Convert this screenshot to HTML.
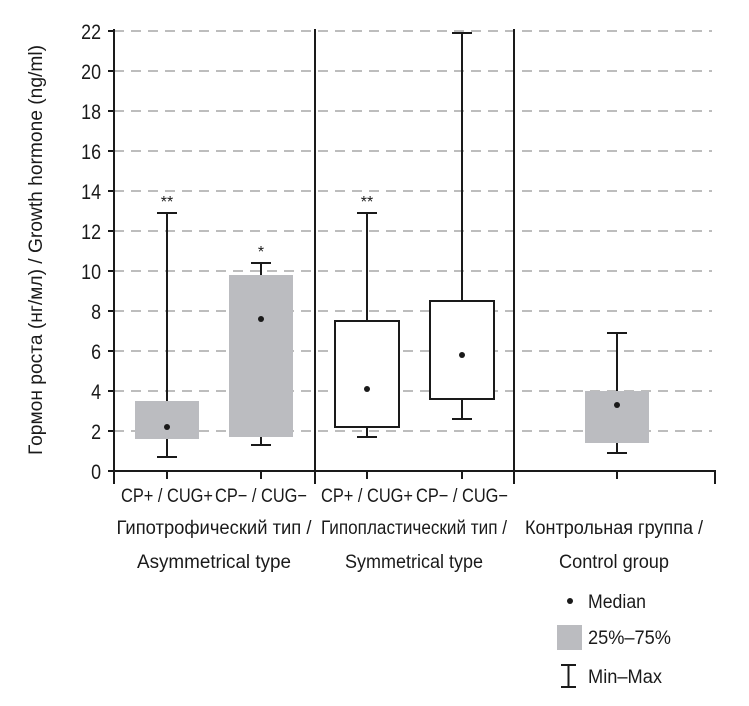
<!DOCTYPE html>
<html><head><meta charset="utf-8"><style>
body{margin:0;background:#fff;}
svg text{font-family:"Liberation Sans","DejaVu Sans",sans-serif;fill:#1a1a1a;}
</style></head><body>
<svg id="chart" width="749" height="701" viewBox="0 0 749 701" xmlns="http://www.w3.org/2000/svg">
<g id="grid"></g><g id="marks"></g><g id="axes"></g>
<text transform="translate(42,250) rotate(-90)" text-anchor="middle" font-size="19" textLength="410" lengthAdjust="spacingAndGlyphs">Гормон роста (нг/мл) / Growth hormone (ng/ml)</text>
<g font-size="19" text-anchor="middle">
<text x="214" y="534" textLength="195" lengthAdjust="spacingAndGlyphs">Гипотрофический тип /</text><text x="214" y="568" textLength="154" lengthAdjust="spacingAndGlyphs">Asymmetrical type</text></g>
<g font-size="19" text-anchor="middle">
<text x="414" y="534" textLength="186" lengthAdjust="spacingAndGlyphs">Гипопластический тип /</text><text x="414" y="568" textLength="138" lengthAdjust="spacingAndGlyphs">Symmetrical type</text></g>
<g font-size="19" text-anchor="middle">
<text x="614" y="534" textLength="178" lengthAdjust="spacingAndGlyphs">Контрольная группа /</text><text x="614" y="568" textLength="110" lengthAdjust="spacingAndGlyphs">Control group</text></g>
<g font-size="19">
<circle cx="570" cy="601" r="3" fill="#1a1a1a"/><text x="588" y="608" textLength="58" lengthAdjust="spacingAndGlyphs">Median</text>
<rect x="557" y="625" width="25" height="25" fill="#bbbcc0"/><text x="588" y="644" textLength="83" lengthAdjust="spacingAndGlyphs">25%–75%</text>
<path d="M561 665H576M568.5 665V687M561 687H576" stroke="#1a1a1a" stroke-width="2" fill="none"/><text x="588" y="683" textLength="74" lengthAdjust="spacingAndGlyphs">Min–Max</text>
</g>
</svg>
<script>
const categories=["CP+ / CUG+","CP− / CUG−","CP+ / CUG+","CP− / CUG−","control"];
const mins=[0.7,1.3,1.7,2.6,0.9];
const q1s=[1.6,1.7,2.2,3.6,1.4];
const medians=[2.2,7.6,4.1,5.8,3.3];
const q3s=[3.5,9.8,7.5,8.5,4.0];
const maxs=[12.9,10.4,12.9,21.9,6.9];
const marks=["**","*","**","",""];
const fills=["gray","gray","white","white","gray"];
const yTicks=[0,2,4,6,8,10,12,14,16,18,20,22];
const showCatLabel=[true,true,true,true,false];

const NS="http://www.w3.org/2000/svg";
const y=v=>471-v*20;
const centers=[167,261,367,462,617];
const x=i=>centers[i];
function mk(p,tag,a){const e=document.createElementNS(NS,tag);for(const k in a)e.setAttribute(k,a[k]);p.appendChild(e);return e;}
const grid=document.getElementById('grid'),m=document.getElementById('marks'),ax=document.getElementById('axes');
yTicks.forEach(t=>{
 if(t>0){const g=mk(grid,'line',{x1:114,x2:712,y1:y(t),y2:y(t),stroke:'#bdbdbd','stroke-width':2,'stroke-dasharray':'10 7'});
 
 }
 const tx=mk(ax,'text',{x:101,y:y(t)+8,'text-anchor':'end','font-size':21,'transform':'translate('+(101*0.15)+',0) scale(0.85,1)'});tx.textContent=t;
 
 
 mk(ax,'line',{x1:108,x2:114,y1:y(t),y2:y(t),stroke:'#1a1a1a','stroke-width':2});
});
[114,315,514,715].forEach((gx,i)=>{
 if(i<3){const d=mk(ax,'line',{x1:gx,x2:gx,y1:y(22)-2,y2:471,stroke:'#1a1a1a','stroke-width':2});
 
 }
 mk(ax,'line',{x1:gx,x2:gx,y1:471,y2:484,stroke:'#1a1a1a','stroke-width':2});
});
const xa=mk(ax,'line',{x1:108,x2:716,y1:471,y2:471,stroke:'#1a1a1a','stroke-width':2});


categories.forEach((c,i)=>{
 const cx=x(i);
 mk(ax,'line',{x1:cx,x2:cx,y1:471,y2:479,stroke:'#1a1a1a','stroke-width':2});
 if(showCatLabel[i]){const t=mk(ax,'text',{x:cx,y:502,'text-anchor':'middle','font-size':19,textLength:92,lengthAdjust:'spacingAndGlyphs'});t.textContent=c;
 
 }
 const g=mk(m,'g',{});
 
 
 mk(g,'line',{x1:cx,x2:cx,y1:y(maxs[i]),y2:y(q3s[i]),stroke:'#1a1a1a','stroke-width':2});
 mk(g,'line',{x1:cx,x2:cx,y1:y(q1s[i]),y2:y(mins[i]),stroke:'#1a1a1a','stroke-width':2});
 mk(g,'line',{x1:cx-10,x2:cx+10,y1:y(maxs[i]),y2:y(maxs[i]),stroke:'#1a1a1a','stroke-width':2});
 mk(g,'line',{x1:cx-10,x2:cx+10,y1:y(mins[i]),y2:y(mins[i]),stroke:'#1a1a1a','stroke-width':2});
 if(fills[i]==='gray')mk(g,'rect',{x:cx-32,y:y(q3s[i]),width:64,height:y(q1s[i])-y(q3s[i]),fill:'#bbbcc0'});
 else mk(g,'rect',{x:cx-32,y:y(q3s[i]),width:64,height:y(q1s[i])-y(q3s[i]),fill:'#fff',stroke:'#1a1a1a','stroke-width':2});
 mk(g,'circle',{cx:cx,cy:y(medians[i]),r:3,fill:'#1a1a1a'});
 if(marks[i]){const s=mk(g,'text',{x:cx,y:y(maxs[i])-6,'text-anchor':'middle','font-size':16});s.textContent=marks[i];
 
 }
});
</script>
</body></html>
